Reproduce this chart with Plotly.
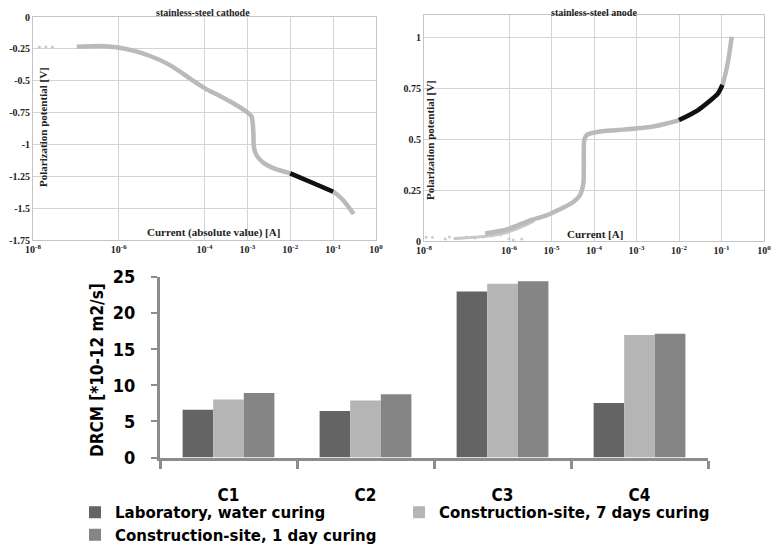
import plotly.graph_objects as go

W, H = 773, 544

# ---------------- data ----------------
# stainless-steel cathode: log10(|current| [A]) and polarization potential [V]
cathode_logI = [-6.98, -6.44, -6.05, -5.66, -5.27, -4.88, -4.57, -4.26, -3.95, -3.64,
                -3.33, -3.02, -2.90, -2.86, -2.85, -2.79, -2.63, -2.32, -2.00, -1.54,
                -1.00, -0.77, -0.52]
cathode_E = [-0.233, -0.228, -0.238, -0.264, -0.306, -0.364, -0.429, -0.502, -0.568, -0.620,
             -0.677, -0.743, -0.782, -0.913, -1.018, -1.083, -1.143, -1.196, -1.227, -1.293,
             -1.371, -1.436, -1.546]
cathode_dots_logI = [-7.85, -7.70, -7.55]
cathode_dots_E = [-0.235, -0.235, -0.235]

# stainless-steel anode
anode_logI = [-6.56, -6.09, -5.78, -5.47, -5.15, -4.84, -4.53, -4.33, -4.25, -4.24,
              -4.24, -4.23, -4.17, -3.90, -3.43, -2.64, -2.00, -1.55, -1.08, -0.98,
              -0.84, -0.76]
anode_E = [0.037, 0.054, 0.078, 0.103, 0.123, 0.152, 0.185, 0.225, 0.283, 0.364,
           0.446, 0.495, 0.520, 0.536, 0.544, 0.560, 0.593, 0.642, 0.724, 0.765,
           0.887, 1.001]
anode_low_logI = [-7.30, -6.80, -6.30, -6.00, -5.70, -5.40]
anode_low_E = [0.012, 0.018, 0.030, 0.045, 0.070, 0.100]
anode_dots_logI = [-7.95, -7.80, -7.50, -7.40, -7.20, -7.00, -6.80, -6.60, -6.40, -6.20, -6.00, -5.90, -5.70]
anode_dots_E = [0.018, 0.018, 0.010, 0.020, 0.015, 0.020, 0.015, 0.020, 0.025, 0.030, 0.010, 0.005, 0.010]

cathode_yticks = [0, -0.25, -0.5, -0.75, -1, -1.25, -1.5, -1.75]
cathode_yticktext = ["0", "-0.25", "-0.5", "-0.75", "-1", "-1.25", "-1.5", "-1.75"]
cathode_xexp = [-8, -6, -4, -3, -2, -1, 0]
anode_yticks = [0, 0.25, 0.5, 0.75, 1]
anode_yticktext = ["0", "0.25", "0.5", "0.75", "1"]
anode_xexp = [-8, -6, -5, -4, -3, -2, -1, 0]

# bar chart
categories = ["C1", "C2", "C3", "C4"]
series_names = ["Laboratory, water curing", "Construction-site, 7 days curing",
                "Construction-site, 1 day curing"]
lab_water = [6.6, 6.45, 23.0, 7.55]
site_7days = [8.05, 7.9, 24.05, 16.95]
site_1day = [8.95, 8.75, 24.4, 17.15]
bar_colors = ["#646464", "#b5b5b5", "#858585"]
bar_yticks = [0, 5, 10, 15, 20, 25]

# ---------------- figure ----------------
fig = go.Figure()

def pw(v):
    return [10 ** x for x in v]

def seg(logI, E, lo, hi):
    xs, ys = [], []
    for a, b in zip(logI, E):
        if lo - 0.001 <= a <= hi + 0.001:
            xs.append(a); ys.append(b)
    return xs, ys

GRAY = "#bababa"
# cathode
fig.add_trace(go.Scatter(x=pw(cathode_dots_logI), y=cathode_dots_E, mode="markers",
                         marker=dict(color="#c8c8c8", size=3), xaxis="x", yaxis="y",
                         showlegend=False))
fig.add_trace(go.Scatter(x=pw(cathode_logI), y=cathode_E, mode="lines",
                         line=dict(color=GRAY, width=4.5, shape="spline", smoothing=0.6),
                         xaxis="x", yaxis="y", showlegend=False))
cx, cy = seg(cathode_logI, cathode_E, -2.0, -1.0)
fig.add_trace(go.Scatter(x=pw(cx), y=cy, mode="lines",
                         line=dict(color="#111111", width=4.5, shape="spline", smoothing=0.6),
                         xaxis="x", yaxis="y", showlegend=False))
# anode
fig.add_trace(go.Scatter(x=pw(anode_dots_logI), y=anode_dots_E, mode="markers",
                         marker=dict(color="#cccccc", size=3), xaxis="x2", yaxis="y2",
                         showlegend=False))
fig.add_trace(go.Scatter(x=pw(anode_low_logI), y=anode_low_E, mode="lines",
                         line=dict(color="#c8c8c8", width=3, shape="spline"),
                         xaxis="x2", yaxis="y2", showlegend=False))
fig.add_trace(go.Scatter(x=pw(anode_logI), y=anode_E, mode="lines",
                         line=dict(color=GRAY, width=4.5, shape="spline", smoothing=0.6),
                         xaxis="x2", yaxis="y2", showlegend=False))
ax_, ay_ = seg(anode_logI, anode_E, -2.0, -0.98)
fig.add_trace(go.Scatter(x=pw(ax_), y=ay_, mode="lines",
                         line=dict(color="#111111", width=4.5, shape="spline", smoothing=0.6),
                         xaxis="x2", yaxis="y2", showlegend=False))

# bars
for name, vals, col in zip(series_names, [lab_water, site_7days, site_1day], bar_colors):
    fig.add_trace(go.Bar(x=categories, y=vals, name=name, marker=dict(color=col, line=dict(width=0)),
                         xaxis="x3", yaxis="y3"))

SERIF = "Liberation Serif, Times New Roman, serif"
NARROW = "DejaVu Sans Condensed, Liberation Sans Narrow, Arial Narrow, sans-serif"
SANS = "DejaVu Sans, Verdana, sans-serif"
serif_font = dict(family=SERIF, size=10, color="#222222", weight="bold")
GRID = "#d4d4d4"

def px_x(p):
    return p / W

def px_y(p):
    return 1 - p / H

def sup(e):
    return "10<sup>%d</sup>" % e

fig.update_layout(
    width=W, height=H, autosize=False,
    margin=dict(l=0, r=0, t=0, b=0, autoexpand=False),
    paper_bgcolor="white", plot_bgcolor="white",
    barmode="group", bargap=0.33, bargroupgap=0,
    xaxis=dict(type="log", range=[-8, 0], domain=[px_x(33), px_x(376)],
               tickvals=[10 ** e for e in cathode_xexp], ticktext=[sup(e) for e in cathode_xexp],
               showgrid=True, gridcolor=GRID, gridwidth=1, showline=True, linecolor="#c4c4c4",
               mirror=True, ticks="", tickfont=serif_font, anchor="y", zeroline=False,
               automargin=False),
    yaxis=dict(range=[-1.75, 0], domain=[px_y(240), px_y(17)],
               tickvals=cathode_yticks, ticktext=cathode_yticktext,
               showgrid=True, gridcolor=GRID, showline=True, linecolor="#c4c4c4", mirror=True,
               ticks="", tickfont=serif_font, anchor="x", zeroline=False, automargin=False),
    xaxis2=dict(type="log", range=[-8, 0], domain=[px_x(424), px_x(764)],
                tickvals=[10 ** e for e in anode_xexp], ticktext=[sup(e) for e in anode_xexp],
                showgrid=True, gridcolor=GRID, showline=True, linecolor="#c4c4c4",
                mirror=True, ticks="", tickfont=serif_font, anchor="y2", zeroline=False,
                automargin=False),
    yaxis2=dict(range=[0, 1.108], domain=[px_y(241), px_y(15)],
                tickvals=anode_yticks, ticktext=anode_yticktext,
                showgrid=True, gridcolor=GRID, showline=True, linecolor="#c4c4c4", mirror=True,
                ticks="", tickfont=serif_font, anchor="x2", zeroline=False, automargin=False),
    xaxis3=dict(domain=[px_x(160), px_x(708)], anchor="y3", showline=True, linecolor="#8c8c8c",
                linewidth=3, ticks="outside", tickson="boundaries", ticklen=8, tickwidth=3,
                tickcolor="#8c8c8c", ticklabelstandoff=20,
                tickfont=dict(family=NARROW, size=17, color="black", weight="bold"),
                showgrid=False, automargin=False),
    yaxis3=dict(domain=[px_y(457.5), px_y(277)], range=[0, 25], anchor="x3", showline=True,
                linecolor="#8c8c8c", linewidth=3, ticks="outside", ticklen=6, tickwidth=2,
                tickcolor="#8c8c8c", tickvals=bar_yticks, showgrid=False, zeroline=False,
                ticklabelstandoff=12, automargin=False,
                tickfont=dict(family=NARROW, size=18, color="black", weight="bold")),
    legend=dict(orientation="h", xref="container", yref="container",
                x=75 / W, y=1 - 496 / H, xanchor="left", yanchor="top",
                entrywidth=279, entrywidthmode="pixels", itemwidth=30, tracegroupgap=0,
                font=dict(family=SANS, size=15, color="black", weight="bold"),
                bgcolor="rgba(0,0,0,0)"),
)

ann = [
    dict(text="stainless-steel cathode", x=px_x(203), y=px_y(12), font=serif_font),
    dict(text="stainless-steel anode", x=px_x(594), y=px_y(12), font=serif_font),
    dict(text="Polarization potential [V]", x=px_x(43), y=px_y(127), textangle=-90,
         font=dict(family=SERIF, size=11, color="#222222", weight="bold")),
    dict(text="Polarization potential [V]", x=px_x(430), y=px_y(140), textangle=-90,
         font=dict(family=SERIF, size=11, color="#222222", weight="bold")),
    dict(text="Current (absolute value) [A]", x=px_x(213), y=px_y(233),
         font=dict(family=SERIF, size=11, color="#222222", weight="bold")),
    dict(text="Current [A]", x=px_x(595), y=px_y(234),
         font=dict(family=SERIF, size=11, color="#222222", weight="bold")),
    dict(text="DRCM [*10-12 m2/s]", x=px_x(97), y=px_y(370), textangle=-90,
         font=dict(family=NARROW, size=17, color="black", weight="bold")),
]
for a in ann:
    a.update(xref="paper", yref="paper", showarrow=False, xanchor="center", yanchor="middle")
fig.update_layout(annotations=ann)

fig.write_html("out.html", config={"displayModeBar": False},
               post_script="document.body.style.margin='0';document.body.style.overflow='hidden';")
